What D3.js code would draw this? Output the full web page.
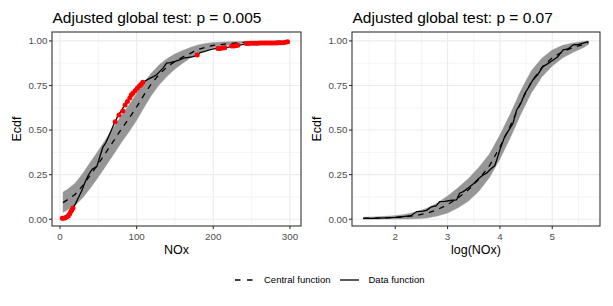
<!DOCTYPE html>
<html>
<head>
<meta charset="utf-8">
<script src="https://cdn.jsdelivr.net/npm/d3@7"></script>
<style>
  body { margin: 0; background: #fff; }
  text { font-family: "Liberation Sans", Arial, sans-serif; }
</style>
</head>
<body>
<div id="chart"></div>
<script>
// left panel: NOx
const rL = [4, 10, 20, 30, 40, 50, 60, 70, 80, 90, 100, 110, 120, 130, 140, 150, 160, 170, 180, 190, 200, 220, 240, 260, 280, 297];
const centralL = [0.093, 0.11, 0.14, 0.19, 0.25, 0.31, 0.375, 0.44, 0.505, 0.565, 0.63, 0.70, 0.765, 0.815, 0.855, 0.885, 0.91, 0.93, 0.952, 0.965, 0.975, 0.985, 0.991, 0.995, 0.997, 0.998];
const loL = [0.038, 0.053, 0.078, 0.122, 0.177, 0.237, 0.3, 0.365, 0.43, 0.49, 0.555, 0.63, 0.7, 0.757, 0.803, 0.843, 0.875, 0.905, 0.928, 0.948, 0.962, 0.976, 0.988, 0.992, 0.995, 0.997];
const hiL = [0.152, 0.168, 0.203, 0.258, 0.323, 0.384, 0.45, 0.515, 0.58, 0.64, 0.705, 0.768, 0.823, 0.868, 0.902, 0.927, 0.946, 0.963, 0.977, 0.986, 0.991, 0.995, 0.997, 0.998, 0.999, 0.999];
const dataLx = [4, 8, 12, 15, 17, 20, 24, 28, 32, 37, 42, 48, 52, 56, 60, 65, 70, 72, 76, 80, 84, 88, 92, 96, 100, 104, 108, 113, 117, 122, 126, 130, 135, 139, 144, 150, 156, 161, 168, 174, 179, 183, 188, 194, 200, 206, 216, 220, 224, 232, 240, 243, 270, 290, 297];
const dataLy = [0.005, 0.012, 0.03, 0.05, 0.065, 0.085, 0.12, 0.155, 0.2, 0.248, 0.28, 0.295, 0.35, 0.405, 0.43, 0.48, 0.53, 0.547, 0.585, 0.607, 0.64, 0.66, 0.697, 0.716, 0.744, 0.757, 0.768, 0.78, 0.79, 0.8, 0.81, 0.828, 0.85, 0.875, 0.878, 0.885, 0.893, 0.903, 0.908, 0.912, 0.921, 0.935, 0.94, 0.948, 0.955, 0.958, 0.962, 0.965, 0.972, 0.975, 0.98, 0.986, 0.988, 0.99, 0.995];
const redLx = [3, 5, 7, 9, 11, 12.5, 14, 15.5, 17,
  72, 77, 82, 85, 88, 91, 93, 95, 98, 101, 104, 106, 108,
  179, 206, 209, 212, 215, 224, 227, 230, 232,
  243, 246, 249, 252, 255, 258, 261, 264, 267, 270, 273, 276, 279, 282, 285, 288, 291, 294, 297];
const redLy = [0.005, 0.006, 0.008, 0.012, 0.02, 0.03, 0.042, 0.052, 0.063,
  0.547, 0.585, 0.607, 0.64, 0.66, 0.68, 0.697, 0.707, 0.72, 0.735, 0.748, 0.757, 0.768,
  0.921, 0.958, 0.958, 0.96, 0.962, 0.972, 0.972, 0.974, 0.975,
  0.986, 0.986, 0.987, 0.987, 0.987, 0.987, 0.988, 0.988, 0.988, 0.988, 0.988, 0.989, 0.989, 0.989, 0.99, 0.99, 0.99, 0.992, 0.995];

// right panel: log(NOx)
const rR = [1.39, 1.6, 1.8, 2.0, 2.2, 2.4, 2.6, 2.8, 3.0, 3.2, 3.4, 3.6, 3.8, 4.0, 4.2, 4.4, 4.6, 4.8, 5.0, 5.2, 5.4, 5.6, 5.69];
const centralR = [0.005, 0.006, 0.008, 0.01, 0.014, 0.021, 0.033, 0.053, 0.082, 0.12, 0.165, 0.225, 0.3, 0.405, 0.525, 0.655, 0.77, 0.85, 0.905, 0.94, 0.963, 0.98, 0.99];
const loR = [0.0, 0.0, 0.001, 0.001, 0.001, 0.003, 0.007, 0.018, 0.035, 0.064, 0.102, 0.158, 0.234, 0.338, 0.458, 0.59, 0.708, 0.798, 0.86, 0.905, 0.937, 0.963, 0.98];
const hiR = [0.011, 0.013, 0.016, 0.02, 0.028, 0.04, 0.061, 0.09, 0.13, 0.176, 0.228, 0.292, 0.366, 0.472, 0.592, 0.722, 0.832, 0.903, 0.949, 0.975, 0.989, 0.997, 1.0];
const dataRx = [1.39, 1.6, 1.8, 2.0, 2.15, 2.3, 2.41, 2.53, 2.6, 2.69, 2.78, 2.85, 2.95, 3.05, 3.17, 3.23, 3.3, 3.43, 3.5, 3.6, 3.68, 3.75, 3.84, 3.9, 3.94, 4.0, 4.09, 4.17, 4.25, 4.32, 4.4, 4.48, 4.55, 4.63, 4.72, 4.82, 4.9, 5.02, 5.1, 5.21, 5.3, 5.4, 5.5, 5.59, 5.69];
const dataRy = [0.005, 0.005, 0.008, 0.01, 0.015, 0.02, 0.043, 0.045, 0.05, 0.07, 0.075, 0.099, 0.1, 0.105, 0.108, 0.146, 0.155, 0.183, 0.2, 0.23, 0.248, 0.26, 0.286, 0.3, 0.333, 0.39, 0.463, 0.5, 0.538, 0.613, 0.65, 0.707, 0.74, 0.781, 0.81, 0.856, 0.87, 0.893, 0.91, 0.95, 0.955, 0.978, 0.98, 0.987, 0.996];

const yTicks = [0, 0.25, 0.5, 0.75, 1];
const yMinor = [0.125, 0.375, 0.625, 0.875];

const W = 613, H = 306;
const svg = d3.select("#chart").append("svg").attr("width", W).attr("height", H);

function drawPanel(cfg) {
    const x = d3.scaleLinear().domain(cfg.xDomain).range([cfg.left, cfg.right]);
    const y = d3.scaleLinear().domain([-0.038, 1.05]).range([226, 32]);
    const g = svg.append("g");

    // grid
    cfg.xMinor.forEach(v => g.append("line").attr("x1", x(v)).attr("x2", x(v)).attr("y1", 32).attr("y2", 226)
        .style("stroke", "#ebebeb").style("stroke-width", 0.55));
    yMinor.forEach(v => g.append("line").attr("x1", cfg.left).attr("x2", cfg.right).attr("y1", y(v)).attr("y2", y(v))
        .style("stroke", "#ebebeb").style("stroke-width", 0.55));
    cfg.xTicks.forEach(v => g.append("line").attr("x1", x(v)).attr("x2", x(v)).attr("y1", 32).attr("y2", 226)
        .style("stroke", "#ebebeb").style("stroke-width", 1.1));
    yTicks.forEach(v => g.append("line").attr("x1", cfg.left).attr("x2", cfg.right).attr("y1", y(v)).attr("y2", y(v))
        .style("stroke", "#ebebeb").style("stroke-width", 1.1));

    // envelope
    const band = cfg.r.map((r, i) => ({r: r, lo: cfg.lo[i], hi: cfg.hi[i]}));
    g.append("path").datum(band)
        .attr("d", d3.area().x(d => x(d.r)).y0(d => y(d.lo)).y1(d => y(d.hi)))
        .style("fill", "#969696").style("stroke", "#969696").style("stroke-width", 0.5);

    // central function
    g.append("path").datum(cfg.r.map((r, i) => [r, cfg.central[i]]))
        .attr("d", d3.line().x(d => x(d[0])).y(d => y(d[1])))
        .style("fill", "none").style("stroke", "#000").style("stroke-width", 1.3)
        .style("stroke-dasharray", "5.5,5.5");

    // data function
    g.append("path").datum(cfg.dx.map((v, i) => [v, cfg.dy[i]]))
        .attr("d", d3.line().x(d => x(d[0])).y(d => y(d[1])))
        .style("fill", "none").style("stroke", "#000").style("stroke-width", 1.3);

    // points outside the envelope
    if (cfg.redX) {
        g.selectAll("circle.out").data(cfg.redX.map((v, i) => [v, cfg.redY[i]])).enter()
            .append("circle").attr("class", "out")
            .attr("cx", d => x(d[0])).attr("cy", d => y(d[1])).attr("r", 2.5)
            .style("fill", "#ff0000");
    }

    // border
    g.append("rect").attr("x", cfg.left).attr("y", 32).attr("width", cfg.right - cfg.left).attr("height", 194)
        .style("fill", "none").style("stroke", "#333333").style("stroke-width", 1.1);

    // ticks and labels
    yTicks.forEach(v => {
        g.append("line").attr("x1", cfg.left - 3).attr("x2", cfg.left).attr("y1", y(v)).attr("y2", y(v))
            .style("stroke", "#333333").style("stroke-width", 1.1);
        g.append("text").attr("x", cfg.left - 4.5).attr("y", y(v)).attr("dy", "0.35em")
            .attr("text-anchor", "end").style("font-size", "9.8px").style("fill", "#4d4d4d")
            .text(d3.format(".2f")(v));
    });
    cfg.xTicks.forEach(v => {
        g.append("line").attr("x1", x(v)).attr("x2", x(v)).attr("y1", 226).attr("y2", 229)
            .style("stroke", "#333333").style("stroke-width", 1.1);
        g.append("text").attr("x", x(v)).attr("y", 239.5)
            .attr("text-anchor", "middle").style("font-size", "9.8px").style("fill", "#4d4d4d")
            .text(v);
    });

    // titles
    g.append("text").attr("x", cfg.left + 0.5).attr("y", 22.5).style("font-size", "15.5px")
        .text(cfg.title);
    g.append("text").attr("x", (cfg.left + cfg.right) / 2).attr("y", 253.5)
        .attr("text-anchor", "middle").style("font-size", "12.5px").text(cfg.xLabel);
    g.append("text").attr("transform", `translate(${cfg.left - 31.5},129) rotate(-90)`)
        .attr("text-anchor", "middle").style("font-size", "12.5px").text("Ecdf");
}

drawPanel({
    left: 52, right: 301, xDomain: [-10.4, 314.4],
    xTicks: [0, 100, 200, 300], xMinor: [50, 150, 250],
    r: rL, central: centralL, lo: loL, hi: hiL, dx: dataLx, dy: dataLy,
    redX: redLx, redY: redLy,
    title: "Adjusted global test: p = 0.005", xLabel: "NOx"
});

drawPanel({
    left: 352, right: 600, xDomain: [1.174, 5.912],
    xTicks: [2, 3, 4, 5], xMinor: [1.5, 2.5, 3.5, 4.5, 5.5],
    r: rR, central: centralR, lo: loR, hi: hiR, dx: dataRx, dy: dataRy,
    title: "Adjusted global test: p = 0.07", xLabel: "log(NOx)"
});

// legend
const legend = svg.append("g");
legend.append("line").attr("x1", 235).attr("x2", 253).attr("y1", 280).attr("y2", 280)
    .style("stroke", "#000").style("stroke-width", 1.3).style("stroke-dasharray", "5.5,6.5");
legend.append("text").attr("x", 264).attr("y", 280).attr("dy", "0.35em").style("font-size", "9.5px").text("Central function");
legend.append("line").attr("x1", 340).attr("x2", 359).attr("y1", 280).attr("y2", 280)
    .style("stroke", "#000").style("stroke-width", 1.3);
legend.append("text").attr("x", 368.5).attr("y", 280).attr("dy", "0.35em").style("font-size", "9.5px").text("Data function");
</script>
</body>
</html>
